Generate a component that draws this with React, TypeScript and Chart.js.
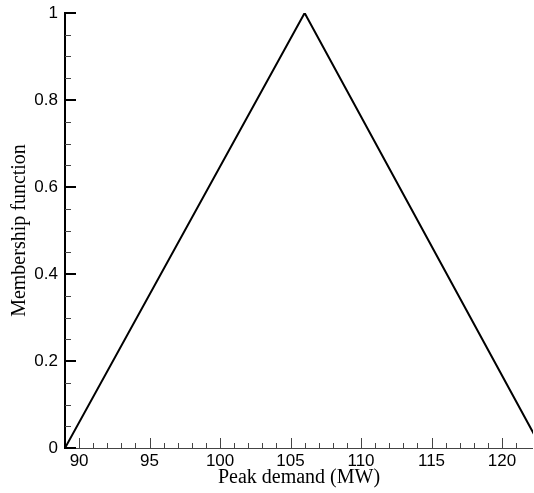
import React, { useEffect, useRef } from "react";
import { Chart, registerables } from "chart.js";

Chart.register(...registerables);

// Triangular membership function of peak demand
const demandMW = [89, 106, 122.8];
const membership = [0, 1, 0];

const xMin = 89;
const xMax = 122.2;
const xMajorStep = 5;
const yMajorStep = 0.2;

const xTitle = "Peak demand (MW)";
const yTitle = "Membership function";

const sansFont = "'Liberation Sans', Arial, sans-serif";
const serifFont = "'Liberation Serif', 'Times New Roman', serif";

// Draws tick marks pointing into the plot area, Tecplot-style
const inwardTicks = {
  id: "inwardTicks",
  afterDatasetsDraw(chart: any) {
    const { ctx, chartArea, scales } = chart;
    const xs = scales.x;
    const ys = scales.y;
    ctx.save();
    // bottom axis line
    ctx.strokeStyle = "#444";
    ctx.lineWidth = 1;
    ctx.beginPath();
    ctx.moveTo(chartArea.left, chartArea.bottom + 0.5);
    ctx.lineTo(chartArea.right, chartArea.bottom + 0.5);
    ctx.stroke();
    xs.ticks.forEach((t: any) => {
      const v = t.value;
      if (Math.abs(v - Math.round(v)) > 1e-6) return;
      const major = Math.round(v) % xMajorStep === 0;
      const px = Math.round(xs.getPixelForValue(v)) + 0.5;
      ctx.beginPath();
      ctx.moveTo(px, chartArea.bottom);
      ctx.lineTo(px, chartArea.bottom - (major ? 10 : 5));
      ctx.stroke();
    });
    // left axis line
    ctx.strokeStyle = "#000";
    ctx.lineWidth = 2;
    ctx.beginPath();
    ctx.moveTo(chartArea.left, chartArea.top - 1);
    ctx.lineTo(chartArea.left, chartArea.bottom + 1);
    ctx.stroke();
    ys.ticks.forEach((t: any) => {
      const k = Math.round(t.value * 100);
      const major = k % Math.round(yMajorStep * 100) === 0;
      const py = ys.getPixelForValue(t.value);
      ctx.lineWidth = major ? 2 : 1;
      ctx.strokeStyle = major ? "#000" : "#444";
      const y = major ? py : Math.round(py) + 0.5;
      ctx.beginPath();
      ctx.moveTo(chartArea.left, y);
      ctx.lineTo(chartArea.left + (major ? 11 : 6), y);
      ctx.stroke();
    });
    ctx.restore();
  },
};

export default function App() {
  const canvasRef = useRef<HTMLCanvasElement | null>(null);

  useEffect(() => {
    document.body.style.margin = "0";
    const canvas = canvasRef.current;
    if (!canvas) return;
    const chart = new Chart(canvas, {
      type: "line",
      data: {
        datasets: [
          {
            data: demandMW.map((x, i) => ({ x, y: membership[i] })),
            borderColor: "#000",
            borderWidth: 2,
            pointRadius: 0,
            tension: 0,
            fill: false,
          },
        ],
      },
      options: {
        responsive: false,
        animation: false,
        layout: { padding: { top: 13, right: 1, bottom: 0, left: 0 } },
        plugins: { legend: { display: false }, tooltip: { enabled: false } },
        scales: {
          x: {
            type: "linear",
            min: xMin,
            max: xMax,
            afterFit: (scale: any) => {
              scale.height = 45;
              scale.paddingLeft = 0;
              scale.paddingRight = 0;
            },
            grid: { display: false, drawTicks: false },
            border: { display: false },
            ticks: {
              stepSize: 1,
              autoSkip: false,
              maxRotation: 0,
              padding: 3,
              color: "#000",
              font: { family: sansFont, size: 17 },
              callback: (v: any) => {
                const n = Number(v);
                return Math.abs(n - Math.round(n)) < 1e-6 && Math.round(n) % xMajorStep === 0
                  ? String(Math.round(n))
                  : "";
              },
            },
            title: {
              display: true,
              text: xTitle,
              color: "#000",
              padding: { top: 0, bottom: 3 },
              font: { family: serifFont, size: 20 },
            },
          },
          y: {
            type: "linear",
            min: 0,
            max: 1,
            afterFit: (scale: any) => {
              scale.width = 65;
              scale.paddingTop = 0;
              scale.paddingBottom = 0;
            },
            grid: { display: false, drawTicks: false },
            border: { display: false },
            ticks: {
              stepSize: 0.05,
              autoSkip: false,
              padding: 7,
              color: "#000",
              font: { family: sansFont, size: 17 },
              callback: (v: any) => {
                const k = Math.round(Number(v) * 100);
                return k % Math.round(yMajorStep * 100) === 0 ? String(k / 100) : "";
              },
            },
            title: {
              display: true,
              text: yTitle,
              color: "#000",
              padding: { top: 8, bottom: 0 },
              font: { family: serifFont, size: 20 },
            },
          },
        },
      },
      plugins: [inwardTicks],
    });
    return () => chart.destroy();
  }, []);

  return (
    <div style={{ width: 534, height: 493 }}>
      <canvas ref={canvasRef} width={534} height={493} style={{ display: "block" }} />
    </div>
  );
}
